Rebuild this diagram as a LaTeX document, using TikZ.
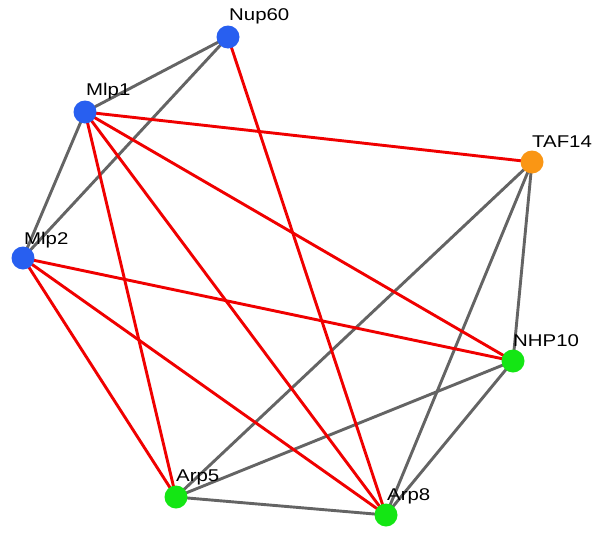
\documentclass[tikz,border=0pt]{standalone}
\usepackage{fontspec}
\setmainfont{Liberation Sans}[FakeStretch=1.2]
\definecolor{nblue}{RGB}{40,95,240}
\definecolor{ngreen}{RGB}{20,230,20}
\definecolor{norange}{RGB}{250,150,20}
\definecolor{ered}{RGB}{240,0,0}
\definecolor{egray}{RGB}{100,100,100}
\begin{document}
\begin{tikzpicture}[x=1pt,y=-1pt,
  vert/.style={circle,inner sep=0pt,minimum size=23pt},
  lab/.style={anchor=base west,inner sep=0pt,font=\fontsize{17}{17}\selectfont,text=black},
  redge/.style={draw=ered,line width=2.9pt},
  gedge/.style={draw=egray,line width=2.9pt}]
\useasboundingbox (0,0) rectangle (595,533);
\fill[white] (0,0) rectangle (595,533);
\coordinate (Nup60) at (228,37);
\coordinate (Mlp1) at (85,112);
\coordinate (Mlp2) at (23,258);
\coordinate (TAF14) at (532,162);
\coordinate (NHP10) at (513,361);
\coordinate (Arp5) at (176,497);
\coordinate (Arp8) at (386,515);
% gray edges
\draw[gedge] (Nup60) -- (Mlp1);
\draw[gedge] (Nup60) -- (Mlp2);
\draw[gedge] (Mlp1) -- (Mlp2);
\draw[gedge] (TAF14) -- (Arp5);
\draw[gedge] (TAF14) -- (NHP10);
\draw[gedge] (TAF14) -- (Arp8);
\draw[gedge] (NHP10) -- (Arp5);
\draw[gedge] (NHP10) -- (Arp8);
\draw[gedge] (Arp5) -- (Arp8);
% red edges
\draw[redge] (Mlp1) -- (TAF14);
\draw[redge] (Mlp1) -- (NHP10);
\draw[redge] (Mlp1) -- (Arp5);
\draw[redge] (Mlp1) -- (Arp8);
\draw[redge] (Nup60) -- (Arp8);
\draw[redge] (Mlp2) -- (NHP10);
\draw[redge] (Mlp2) -- (Arp5);
\draw[redge] (Mlp2) -- (Arp8);
% nodes
\node[vert,fill=nblue] (n1) at (Nup60) {};
\node[vert,fill=nblue] (n2) at (Mlp1) {};
\node[vert,fill=nblue] (n3) at (Mlp2) {};
\node[vert,fill=norange] (n4) at (TAF14) {};
\node[vert,fill=ngreen] (n5) at (NHP10) {};
\node[vert,fill=ngreen] (n6) at (Arp5) {};
\node[vert,fill=ngreen] (n7) at (Arp8) {};
% labels
\node[lab] (l1) at (229,20) {Nup60};
\node[lab] (l2) at (86,95) {Mlp1};
\node[lab] (l3) at (24,244) {Mlp2};
\node[lab] (l4) at (532,147) {TAF14};
\node[lab] (l5) at (513,346) {NHP10};
\node[lab] (l6) at (176,481) {Arp5};
\node[lab] (l7) at (387,500) {Arp8};
\end{tikzpicture}
\end{document}
